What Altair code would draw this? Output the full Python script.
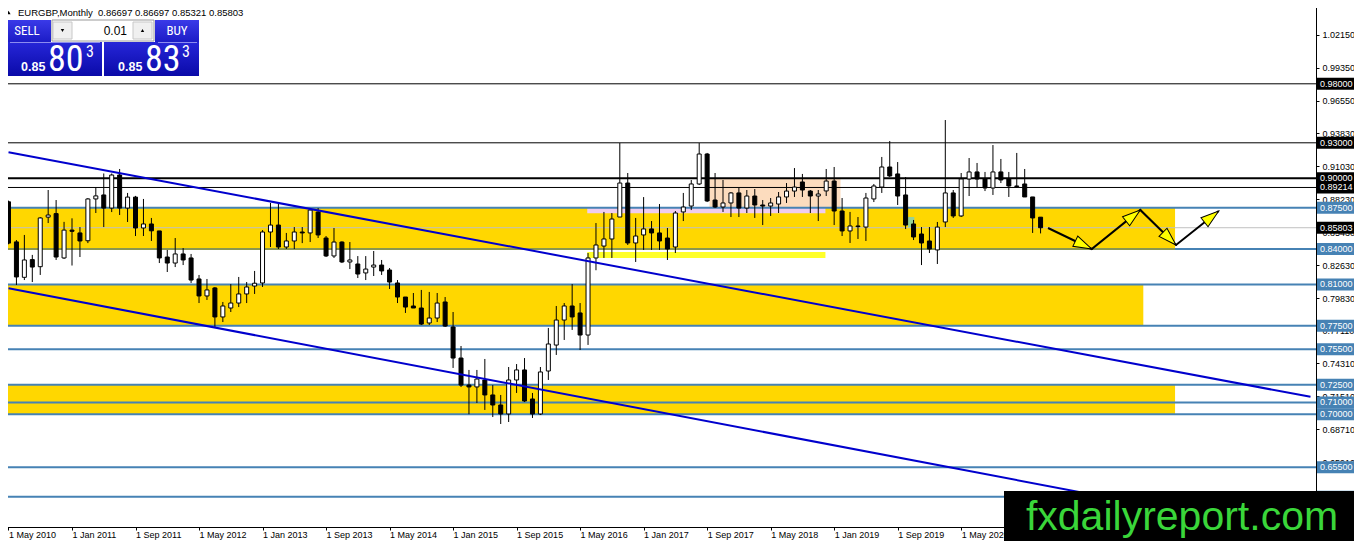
import math
import altair as alt
import pandas as pd

# ---------------- data ----------------
symbol = "EURGBP"
timeframe = "Monthly"

opens = [
    0.8800, 0.8460, 0.8160, 0.8310, 0.8250, 0.8670, 0.8700, 0.8324, 0.8560, 0.8536,
    0.8470, 0.8824, 0.8858, 0.8747, 0.9027, 0.8747, 0.8840, 0.8578, 0.8612, 0.8553,
    0.8332, 0.8281, 0.8358, 0.8324, 0.8146, 0.8002, 0.8070, 0.7824, 0.7900, 0.7942,
    0.8019, 0.8086, 0.8112, 0.8544, 0.8603, 0.8417, 0.8468, 0.8544, 0.8536, 0.8713,
    0.8493, 0.8341, 0.8459, 0.8290, 0.8273, 0.8197, 0.8247, 0.8264, 0.8222, 0.8112,
    0.7993, 0.7917, 0.7900, 0.7773, 0.7815, 0.7951, 0.7739, 0.7476, 0.7247, 0.7231,
    0.7290, 0.7163, 0.7078, 0.7002, 0.7290, 0.7375, 0.7129, 0.7002, 0.7366, 0.7586,
    0.7798, 0.7917, 0.7858, 0.7671, 0.8324, 0.8425, 0.8485, 0.8671, 0.8959, 0.8451,
    0.8519, 0.8570, 0.8536, 0.8493, 0.8417, 0.8714, 0.8764, 0.8951, 0.9205, 0.8815,
    0.8756, 0.8790, 0.8875, 0.8747, 0.8849, 0.8773, 0.8764, 0.8781, 0.8841, 0.8891,
    0.8968, 0.8891, 0.8849, 0.8892, 0.8976, 0.8722, 0.8553, 0.8595, 0.8586, 0.8824,
    0.8925, 0.9095, 0.9036, 0.8858, 0.8612, 0.8527, 0.8468, 0.8392, 0.8629, 0.8875,
    0.8680, 0.8993, 0.9053, 0.8993, 0.8917, 0.9053, 0.8993, 0.8934, 0.8951, 0.8841,
    0.86697,
]
highs = [
    0.8810, 0.8476, 0.8519, 0.8350, 0.8670, 0.8900, 0.8815, 0.8630, 0.8660, 0.8586,
    0.8832, 0.8925, 0.9040, 0.9040, 0.9078, 0.8875, 0.8850, 0.8824, 0.8663, 0.8553,
    0.8392, 0.8493, 0.8408, 0.8358, 0.8180, 0.8146, 0.8078, 0.7951, 0.8103, 0.8163,
    0.8120, 0.8214, 0.8560, 0.8790, 0.8790, 0.8536, 0.8586, 0.8586, 0.8747, 0.8747,
    0.8510, 0.8578, 0.8465, 0.8459, 0.8340, 0.8340, 0.8383, 0.8307, 0.8239, 0.8137,
    0.7993, 0.8027, 0.8053, 0.8036, 0.8027, 0.7993, 0.7866, 0.7578, 0.7375, 0.7375,
    0.7468, 0.7247, 0.7163, 0.7400, 0.7425, 0.7476, 0.7180, 0.7400, 0.7731, 0.7917,
    0.7942, 0.8103, 0.7942, 0.8366, 0.8620, 0.8714, 0.8705, 0.9298, 0.9044, 0.8663,
    0.8840, 0.8637, 0.8781, 0.8578, 0.8722, 0.8875, 0.8985, 0.9298, 0.9214, 0.9044,
    0.8985, 0.8883, 0.8917, 0.8900, 0.8908, 0.8815, 0.8832, 0.8883, 0.8959, 0.9086,
    0.9036, 0.8900, 0.8900, 0.9078, 0.9095, 0.8832, 0.8714, 0.8671, 0.8875, 0.8951,
    0.9180, 0.9315, 0.9137, 0.9010, 0.8646, 0.8586, 0.8586, 0.8629, 0.9493, 0.8900,
    0.9044, 0.9171, 0.9129, 0.9053, 0.9281, 0.9163, 0.9053, 0.9214, 0.9078, 0.8841,
    0.86697,
]
lows = [
    0.8440, 0.8095, 0.8137, 0.8120, 0.8180, 0.8620, 0.8307, 0.8315, 0.8260, 0.8332,
    0.8450, 0.8705, 0.8586, 0.8713, 0.8688, 0.8629, 0.8510, 0.8510, 0.8468, 0.8281,
    0.8205, 0.8247, 0.8264, 0.8112, 0.7942, 0.7968, 0.7739, 0.7781, 0.7866, 0.7908,
    0.7942, 0.8019, 0.8078, 0.8417, 0.8400, 0.8400, 0.8400, 0.8450, 0.8459, 0.8493,
    0.8332, 0.8324, 0.8281, 0.8230, 0.8154, 0.8137, 0.8171, 0.8180, 0.8061, 0.7942,
    0.7858, 0.7900, 0.7756, 0.7756, 0.7781, 0.7739, 0.7392, 0.7230, 0.7000, 0.7095,
    0.7036, 0.6976, 0.6917, 0.6934, 0.7180, 0.7103, 0.6968, 0.6993, 0.7290, 0.7502,
    0.7629, 0.7714, 0.7544, 0.7587, 0.8220, 0.8324, 0.8324, 0.8671, 0.8434, 0.8290,
    0.8392, 0.8392, 0.8392, 0.8307, 0.8366, 0.8637, 0.8730, 0.8942, 0.8798, 0.8747,
    0.8714, 0.8671, 0.8671, 0.8705, 0.8663, 0.8603, 0.8680, 0.8705, 0.8790, 0.8841,
    0.8841, 0.8705, 0.8637, 0.8849, 0.8603, 0.8510, 0.8451, 0.8485, 0.8468, 0.8798,
    0.8875, 0.9010, 0.8773, 0.8569, 0.8476, 0.8264, 0.8366, 0.8273, 0.8586, 0.8663,
    0.8671, 0.8849, 0.8917, 0.8891, 0.8858, 0.8959, 0.8841, 0.8917, 0.8841, 0.8536,
    0.85321,
]
closes = [
    0.8450, 0.8163, 0.8307, 0.8247, 0.8663, 0.8688, 0.8332, 0.8560, 0.8550, 0.8468,
    0.8824, 0.8850, 0.8747, 0.9027, 0.8747, 0.8840, 0.8578, 0.8612, 0.8554, 0.8324,
    0.8281, 0.8358, 0.8307, 0.8137, 0.8002, 0.8053, 0.7824, 0.7917, 0.7942, 0.8019,
    0.8078, 0.8110, 0.8544, 0.8603, 0.8417, 0.8468, 0.8544, 0.8536, 0.8730, 0.8519,
    0.8341, 0.8459, 0.8290, 0.8307, 0.8188, 0.8230, 0.8264, 0.8214, 0.8120, 0.7993,
    0.7908, 0.7900, 0.7764, 0.7815, 0.7942, 0.7747, 0.7476, 0.7247, 0.7231, 0.7298,
    0.7163, 0.7078, 0.7002, 0.7290, 0.7375, 0.7112, 0.7002, 0.7358, 0.7595, 0.7798,
    0.7917, 0.7824, 0.7671, 0.8324, 0.8434, 0.8485, 0.8654, 0.8959, 0.8451, 0.8510,
    0.8570, 0.8536, 0.8468, 0.8400, 0.8705, 0.8756, 0.8951, 0.9205, 0.8807, 0.8756,
    0.8790, 0.8875, 0.8747, 0.8849, 0.8773, 0.8764, 0.8790, 0.8841, 0.8891, 0.8925,
    0.8900, 0.8849, 0.8866, 0.8976, 0.8722, 0.8553, 0.8595, 0.8590, 0.8832, 0.8934,
    0.9095, 0.9019, 0.8849, 0.8603, 0.8502, 0.8451, 0.8400, 0.8586, 0.8875, 0.8680,
    0.8993, 0.9053, 0.8993, 0.8917, 0.9053, 0.8985, 0.8934, 0.8930, 0.8841, 0.8663,
    0.85803,
]
months = list(range(len(opens)))   # 0 = May 2010 ... 130 = Mar 2021

x_tick_months = [0, 8, 16, 24, 32, 40, 48, 56, 64, 72, 80, 88, 96, 104, 112, 120, 128]
x_tick_labels = ["1 May 2010", "1 Jan 2011", "1 Sep 2011", "1 May 2012", "1 Jan 2013",
                 "1 Sep 2013", "1 May 2014", "1 Jan 2015", "1 Sep 2015", "1 May 2016",
                 "1 Jan 2017", "1 Sep 2017", "1 May 2018", "1 Jan 2019", "1 Sep 2019",
                 "1 May 2020", "1 Jan 2021"]
y_tick_values = [1.0215, 0.9935, 0.9655, 0.9383, 0.9103, 0.8823, 0.8543, 0.8263,
                 0.7983, 0.7711, 0.7431, 0.7151, 0.6871, 0.6591, 0.6311]

black_levels = [0.98, 0.93, 0.89214]
heavy_levels = [0.90]
blue_levels = [0.875, 0.84, 0.81, 0.775, 0.755, 0.725, 0.71, 0.70, 0.655, 0.63]
bid_price = 0.85803
ask_price = 0.85833
lot_size = "0.01"

zone_low = [0.84, 0.775, 0.70]
zone_high = [0.875, 0.81, 0.725]
zone_start = [-1.0, -1.0, -1.0]
zone_end = [146.94, 142.94, 146.94]

box_kind = ["lilac", "lemon", "peach", "green"]
box_start = [72.9, 72.9, 88.3, 113.3]
box_end = [102.9, 102.9, 104.8, 114.1]
box_low = [0.8703, 0.8324, 0.8750, 0.8578]
box_high = [0.8750, 0.8375, 0.9000, 0.8671]

upper_m = [0, 164]
upper_p = [0.9220, 0.7147]
lower_m = [0, 164]
lower_p = [0.8067, 0.5968]

arrow_m = [130.94, 136.44, 142.56, 147.06, 152.44]
arrow_p = [0.8578, 0.8400, 0.8731, 0.8434, 0.8722]

# ---------------- geometry / style ----------------
W, H = 1314, 525
XMIN, XMAX = -0.1875, 164.0625
YMIN, YMAX = 0.604407, 1.049322
PXM = W / (XMAX - XMIN)
PXP = H / (YMAX - YMIN)
RPAD = 38
FONT = "Liberation Sans"
NARROW = "Liberation Sans Narrow, Roboto Condensed, Liberation Sans, sans-serif"
STEEL = "#4682B4"
BOX_COLORS = {"lilac": "#efcdef", "lemon": "#ffff2a", "peach": "#fcdcbe", "green": "#96d296"}

xs = alt.Scale(domain=[XMIN, XMAX], nice=False, zero=False)
ys = alt.Scale(domain=[YMIN, YMAX], nice=False, zero=False)

label_expr = "[" + ",".join("'%s'" % s for s in x_tick_labels) + "][round(datum.value/8)]"
X_AX = alt.Axis(values=x_tick_months, labelExpr=label_expr, orient="bottom", title=None,
                grid=False, labelAlign="left", labelBaseline="top", labelFont=FONT,
                labelFontSize=9, labelColor="black", tickColor="black",
                domainColor="black", tickSize=3, labelPadding=0, labelFlush=False,
                labelOverlap=False)
Y_AX = alt.Axis(values=y_tick_values, format=".5f", orient="right", title=None,
                grid=False, labelAlign="left", labelBaseline="middle", labelFont=FONT,
                labelFontSize=9, labelColor="black", tickColor="black",
                domainColor="black", tickSize=3, labelPadding=3, labelFlush=False,
                labelOverlap=False)


def X(f):
    return alt.X(f + ":Q", scale=xs, axis=X_AX)


def Y(f):
    return alt.Y(f + ":Q", scale=ys, axis=Y_AX)


candles = pd.DataFrame({"m": months, "o": opens, "h": highs, "l": lows, "c": closes})
up = candles[candles["c"] >= candles["o"]]
down = candles[candles["c"] < candles["o"]]

zones = pd.DataFrame({"m0": zone_start, "m1": zone_end, "p0": zone_low, "p1": zone_high})
boxes = pd.DataFrame({"m0": box_start, "m1": box_end, "p0": box_low, "p1": box_high,
                      "kind": box_kind})

layers = []
layers.append(alt.Chart(zones).mark_rect(color="#FFD700", clip=True).encode(
    x=X("m0"), x2="m1", y=Y("p0"), y2="p1"))
for kind in box_kind:
    layers.append(alt.Chart(boxes[boxes["kind"] == kind]).mark_rect(
        color=BOX_COLORS[kind], clip=True).encode(x=X("m0"), x2="m1", y=Y("p0"), y2="p1"))

lv_black = pd.DataFrame({"p": black_levels})
lv_heavy = pd.DataFrame({"p": heavy_levels})
lv_blue = pd.DataFrame({"p": blue_levels})
lv_bid = pd.DataFrame({"p": [bid_price]})
layers.append(alt.Chart(lv_bid).mark_rule(color="#c0c0c0", strokeWidth=1).encode(y=Y("p")))
layers.append(alt.Chart(lv_black).mark_rule(color="black", strokeWidth=1).encode(y=Y("p")))
layers.append(alt.Chart(lv_heavy).mark_rule(color="black", strokeWidth=2).encode(y=Y("p")))
layers.append(alt.Chart(lv_blue).mark_rule(color=STEEL, strokeWidth=2).encode(y=Y("p")))
olive = pd.DataFrame({"m0": [zone_start[0]], "m1": [zone_end[0]], "p": [zone_low[0]]})
layers.append(alt.Chart(olive).mark_rule(color="#8a9650", strokeWidth=2, clip=True).encode(
    x=X("m0"), x2="m1", y=Y("p")))

layers.append(alt.Chart(candles).mark_rule(color="black", strokeWidth=1, clip=True).encode(
    x=X("m"), y=Y("l"), y2="h"))
layers.append(alt.Chart(up).mark_bar(size=4, fill="white", stroke="black", strokeWidth=1,
                                     clip=True).encode(x=X("m"), y=Y("o"), y2="c"))
layers.append(alt.Chart(down).mark_bar(size=4, fill="black", stroke="black", strokeWidth=1,
                                       clip=True).encode(x=X("m"), y=Y("o"), y2="c"))

tl = pd.DataFrame({"m": upper_m + lower_m, "p": upper_p + lower_p,
                   "line": ["upper"] * len(upper_m) + ["lower"] * len(lower_m)})
layers.append(alt.Chart(tl).mark_line(color="#0000CD", strokeWidth=2, clip=True).encode(
    x=X("m"), y=Y("p"), detail="line:N"))

arr = pd.DataFrame({"m": arrow_m, "p": arrow_p, "i": list(range(len(arrow_m)))})
layers.append(alt.Chart(arr).mark_line(color="black", strokeWidth=2, clip=True).encode(
    x=X("m"), y=Y("p"), order="i:Q"))
heads = []
for i in range(1, len(arrow_m)):
    dx = (arrow_m[i] - arrow_m[i - 1]) * PXM
    dup = (arrow_p[i] - arrow_p[i - 1]) * PXP
    ang = math.degrees(math.atan2(dx, dup)) % 360
    heads.append({"m": arrow_m[i], "p": arrow_p[i], "ang": ang})
heads = pd.DataFrame(heads)
layers.append(alt.Chart(heads).mark_point(
    shape="M0,0L0.55,1.75L-0.55,1.75Z", filled=True, fill="#FFFF00", stroke="black",
    strokeWidth=1, size=430, opacity=1, clip=True).encode(
    x=X("m"), y=Y("p"), angle=alt.Angle("ang:Q", scale=None)))

# price tags on the right axis
tags_black = pd.DataFrame({"p": black_levels + heavy_levels + [bid_price]})
tags_blue = pd.DataFrame({"p": blue_levels})
for df, col in ((tags_black, "black"), (tags_blue, STEEL)):
    df["lbl"] = ["%.5f" % v for v in df["p"]]
    layers.append(alt.Chart(df).mark_rule(strokeWidth=12, strokeCap="butt", color=col).encode(
        x=alt.value(W + 1), x2=alt.value(W + RPAD), y=Y("p")))
    layers.append(alt.Chart(df).mark_text(align="left", baseline="middle", font=FONT,
                                          fontSize=9, color="white").encode(
        x=alt.value(W + 4), y=Y("p"), text="lbl:N"))

# ---------------- one-click trading panel ----------------
DUMMY = pd.DataFrame({"k": [0]})


def px_rect(x1, y1, x2, y2, **kw):
    return alt.Chart(DUMMY).mark_rect(**kw).encode(
        x=alt.value(x1), x2=alt.value(x2), y=alt.value(y1), y2=alt.value(y2))


def px_text(x, y, txt, **kw):
    return alt.Chart(DUMMY).mark_text(text=txt, **kw).encode(x=alt.value(x), y=alt.value(y))


def px_point(x, y, **kw):
    return alt.Chart(DUMMY).mark_point(**kw).encode(x=alt.value(x), y=alt.value(y))


def grad(c0, c1):
    return alt.LinearGradient(gradient="linear",
                              stops=[alt.GradientStop(color=c0, offset=0),
                                     alt.GradientStop(color=c1, offset=1)],
                              x1=0, x2=0, y1=0, y2=1)


BTN = grad("#3a3ae8", "#1c1cc6")
PRICE = grad("#2626d8", "#0a0aa8")

last = len(opens) - 1
header = "%s,%s\u00a0 %.5f %.5f %.5f %.5f" % (symbol, timeframe, opens[last], highs[last],
                                               lows[last], closes[last])
bid_s, ask_s = "%.5f" % bid_price, "%.5f" % ask_price

layers += [
    px_point(6.5, 10.5, shape="triangle-up", filled=True, color="black", size=18, opacity=1),
    px_text(16, 10.5, header, align="left", baseline="middle", font=FONT, fontSize=9.5,
            color="black"),
    px_rect(4, 18, 49, 40, fill=BTN),
    px_rect(153, 18, 197, 40, fill=BTN),
    px_rect(50, 18, 152, 39, fill="white", stroke="#9a9a9a", strokeWidth=1),
    px_rect(51, 20, 70, 37, fill="#f0f0f0", stroke="#c8c8c8", strokeWidth=1),
    px_rect(131, 20, 150, 37, fill="#f0f0f0", stroke="#c8c8c8", strokeWidth=1),
    px_point(60.5, 28.5, shape="triangle-down", filled=True, color="black", size=12, opacity=1),
    px_point(140.5, 28.5, shape="triangle-up", filled=True, color="black", size=12, opacity=1),
    px_text(125, 29, lot_size, align="right", baseline="middle", font=FONT, fontSize=12,
            color="black"),
    px_text(25, 29, "SELL", align="center", baseline="middle", font=NARROW, fontSize=13,
            color="white"),
    px_text(175, 29, "BUY", align="center", baseline="middle", font=NARROW, fontSize=13,
            color="white"),
    px_rect(4, 40, 100, 74, fill=PRICE),
    px_rect(102, 40, 197, 74, fill=PRICE),
    px_rect(8, 40, 98, 41, fill="#8c8cf0"),
    px_rect(156, 40, 195, 41, fill="#8c8cf0"),
    px_text(19, 69, bid_s[:4], align="left", baseline="alphabetic", font=FONT, fontSize=12.5,
            fontWeight="bold", color="white"),
    px_text(46, 69, bid_s[4:6], align="left", baseline="alphabetic", font=NARROW, fontSize=36,
            color="white"),
    px_text(84, 55, bid_s[6:], align="left", baseline="alphabetic", font=NARROW, fontSize=16,
            color="white"),
    px_text(116, 69, ask_s[:4], align="left", baseline="alphabetic", font=FONT, fontSize=12.5,
            fontWeight="bold", color="white"),
    px_text(143, 69, ask_s[4:6], align="left", baseline="alphabetic", font=NARROW, fontSize=36,
            color="white"),
    px_text(180, 55, ask_s[6:], align="left", baseline="alphabetic", font=NARROW, fontSize=16,
            color="white"),
]

# watermark
layers += [
    px_rect(1002, 489, 1362, 560, fill="black"),
    px_text(1180, 528, "fxdailyreport.com", align="center", baseline="alphabetic", font=FONT,
            fontSize=41, color="#3ad63a"),
]

chart = alt.layer(*layers).properties(
    width=W, height=H, background="white",
    padding={"left": -6, "top": -6, "right": RPAD, "bottom": 14},
    autosize=alt.AutoSizeParams(type="none"),
).configure_view(stroke="black", strokeWidth=1)

chart.save("out.html", embed_options={"renderer": "svg", "actions": False})
